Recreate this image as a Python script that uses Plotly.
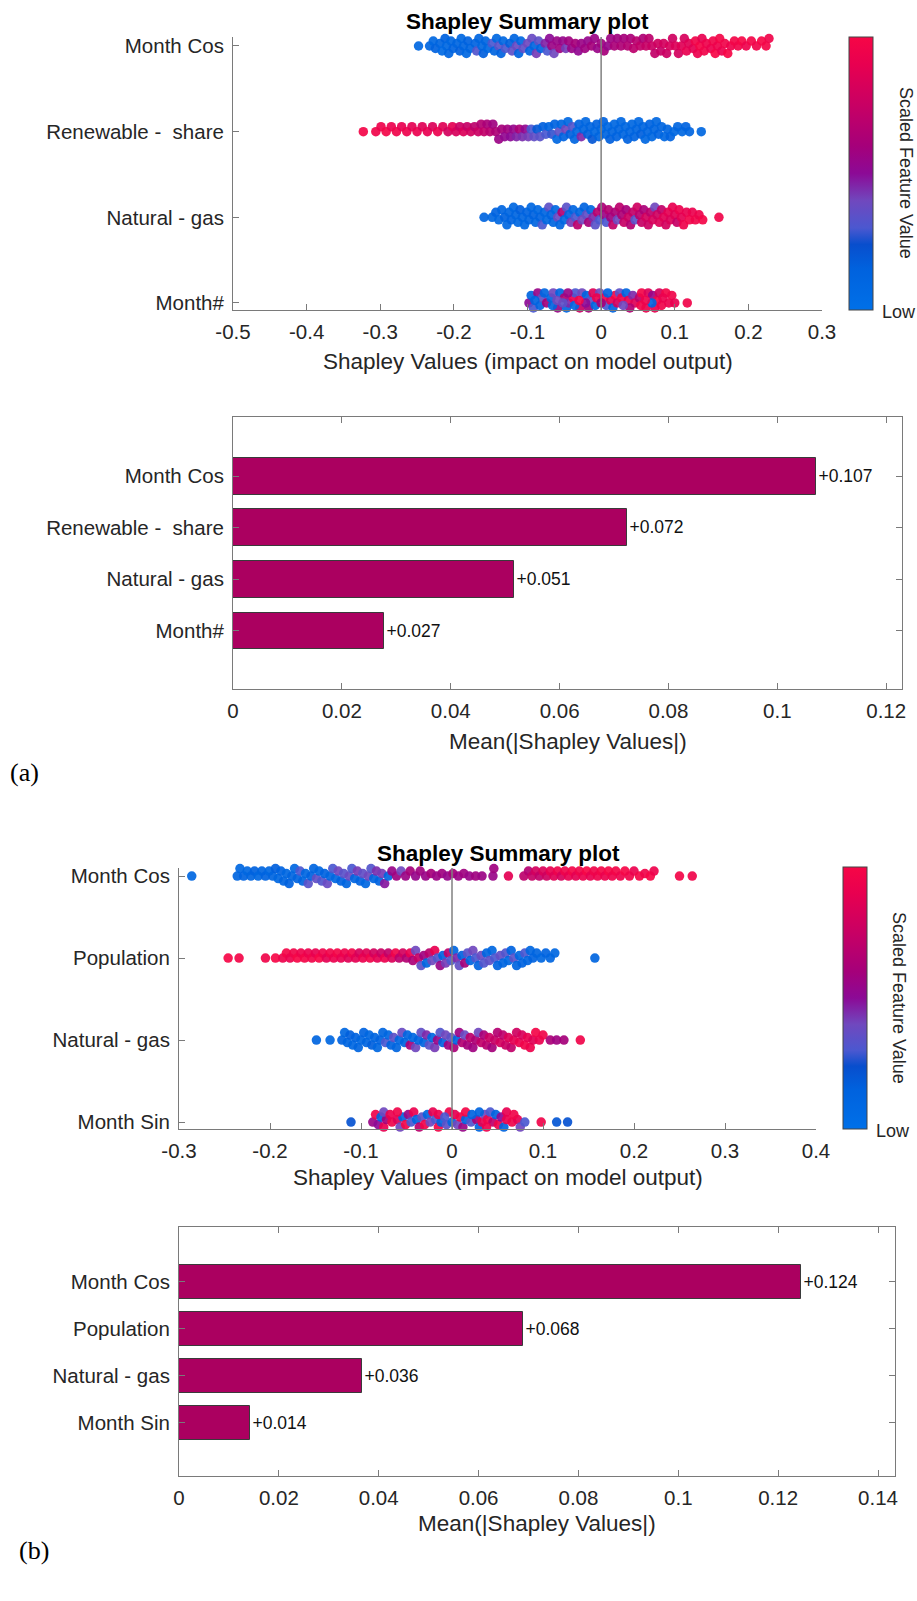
import math
import plotly.graph_objects as go

W, H = 917, 1601

# ---------------- data ----------------
a_features = ["Month Cos", "Renewable - \u00a0share", "Natural - gas", "Month#"]
b_features = ["Month Cos", "Population", "Natural - gas", "Month Sin"]
a_mean_abs = [0.1071, 0.0724, 0.0517, 0.0277]
b_mean_abs = [0.1246, 0.0688, 0.0366, 0.0142]

a_xticks = [-0.5, -0.4, -0.3, -0.2, -0.1, 0, 0.1, 0.2, 0.3]
a_xtick_text = ["-0.5", "-0.4", "-0.3", "-0.2", "-0.1", "0", "0.1", "0.2", "0.3"]
b_xticks = [-0.3, -0.2, -0.1, 0, 0.1, 0.2, 0.3, 0.4]
b_xtick_text = ["-0.3", "-0.2", "-0.1", "0", "0.1", "0.2", "0.3", "0.4"]
a_bar_ticks = [0, 0.02, 0.04, 0.06, 0.08, 0.1, 0.12]
a_bar_tick_text = ["0", "0.02", "0.04", "0.06", "0.08", "0.1", "0.12"]
b_bar_ticks = [0, 0.02, 0.04, 0.06, 0.08, 0.1, 0.12, 0.14]
b_bar_tick_text = ["0", "0.02", "0.04", "0.06", "0.08", "0.1", "0.12", "0.14"]

# (a) Month Cos
a_cos_x = [-0.248, -0.233, -0.228, -0.225, -0.221, -0.219, -0.216, -0.212, -0.210, -0.207,
           -0.204, -0.201, -0.199, -0.196, -0.192, -0.190, -0.187, -0.183, -0.181, -0.178,
           -0.175, -0.171, -0.169, -0.166, -0.162, -0.160, -0.157, -0.154, -0.150, -0.148,
           -0.145, -0.142, -0.139, -0.136, -0.133, -0.130, -0.127, -0.124, -0.121, -0.118,
           -0.115, -0.112, -0.109, -0.106, -0.103, -0.100, -0.097, -0.094, -0.091, -0.088,
           -0.085, -0.082, -0.079, -0.076, -0.073, -0.070, -0.067, -0.064, -0.060, -0.056,
           -0.052, -0.048, -0.044, -0.040, -0.035, -0.031, -0.027, -0.022, -0.018, -0.013,
           -0.009, -0.005, 0.000, 0.004, 0.009, 0.013, 0.018, 0.022, 0.027, 0.031,
           0.036, 0.040, 0.044, 0.048, 0.053, 0.057, 0.061, 0.065, 0.069, 0.073,
           0.077, 0.081, 0.085, 0.089, 0.093, 0.097, 0.101, 0.105, 0.109, 0.113,
           0.116, 0.119, 0.122, 0.125, 0.128, 0.131, 0.134, 0.137, 0.140, 0.143,
           0.146, 0.149, 0.152, 0.155, 0.158, 0.161, 0.164, 0.168, 0.172, 0.176,
           0.181, 0.186, 0.191, 0.197, 0.204, 0.211, 0.218, 0.224, 0.228]
a_cos_c = [0.10, 0.12, 0.10, 0.15, 0.10, 0.12, 0.08, 0.15, 0.10, 0.12,
           0.10, 0.14, 0.10, 0.12, 0.16, 0.10, 0.12, 0.10, 0.15, 0.12,
           0.10, 0.14, 0.32, 0.12, 0.10, 0.16, 0.12, 0.10, 0.14, 0.30,
           0.12, 0.10, 0.34, 0.14, 0.10, 0.30, 0.12, 0.16, 0.35, 0.12,
           0.38, 0.14, 0.10, 0.36, 0.12, 0.40, 0.15, 0.38, 0.12, 0.42,
           0.35, 0.14, 0.44, 0.46, 0.30, 0.50, 0.56, 0.40, 0.55, 0.58,
           0.54, 0.42, 0.58, 0.55, 0.60, 0.52, 0.56, 0.58, 0.54, 0.60,
           0.56, 0.55, 0.58, 0.60, 0.54, 0.57, 0.62, 0.58, 0.64, 0.60,
           0.66, 0.62, 0.70, 0.68, 0.72, 0.64, 0.74, 0.70, 0.76, 0.72,
           0.78, 0.74, 0.80, 0.76, 0.82, 0.78, 0.84, 0.80, 0.86, 0.82,
           0.90, 0.86, 0.94, 0.88, 0.96, 0.92, 0.98, 0.90, 0.96, 0.94,
           0.98, 0.92, 0.96, 1.00, 0.94, 0.98, 0.92, 0.96, 1.00, 0.94,
           0.98, 0.96, 1.00, 0.94, 0.98, 0.96, 1.00, 0.98, 0.96]

# (a) Renewable - share
a_ren_x = [-0.323, -0.306, -0.299, -0.292, -0.285, -0.278, -0.271, -0.264, -0.257, -0.250,
           -0.243, -0.236, -0.229, -0.222, -0.215, -0.208, -0.202, -0.197, -0.192, -0.187,
           -0.182, -0.177, -0.172, -0.167, -0.163, -0.159, -0.155, -0.151, -0.147, -0.143,
           -0.139, -0.135, -0.131, -0.127, -0.123, -0.119, -0.115, -0.111, -0.107, -0.103,
           -0.099, -0.095, -0.091, -0.087, -0.083, -0.079, -0.075, -0.071, -0.067, -0.063,
           -0.060, -0.057, -0.054, -0.051, -0.048, -0.045, -0.042, -0.039, -0.036, -0.033,
           -0.030, -0.027, -0.024, -0.021, -0.018, -0.015, -0.012, -0.009, -0.006, -0.003,
           0.000, 0.003, 0.006, 0.009, 0.012, 0.015, 0.018, 0.021, 0.024, 0.027,
           0.030, 0.033, 0.036, 0.039, 0.042, 0.045, 0.048, 0.051, 0.054, 0.057,
           0.060, 0.063, 0.066, 0.069, 0.072, 0.075, 0.078, 0.082, 0.086, 0.090,
           0.094, 0.099, 0.104, 0.110, 0.115, 0.120, 0.136]
a_ren_c = [0.98, 0.96, 0.94, 0.98, 0.92, 0.96, 0.90, 0.94, 0.88, 0.92,
           0.86, 0.90, 0.84, 0.92, 0.86, 0.80, 0.88, 0.82, 0.76, 0.84,
           0.74, 0.80, 0.70, 0.76, 0.66, 0.72, 0.62, 0.68, 0.58, 0.64,
           0.56, 0.60, 0.52, 0.58, 0.50, 0.54, 0.46, 0.62, 0.44, 0.52,
           0.42, 0.30, 0.36, 0.20, 0.34, 0.16, 0.30, 0.12, 0.28, 0.14,
           0.10, 0.35, 0.12, 0.14, 0.40, 0.10, 0.16, 0.32, 0.12, 0.10,
           0.14, 0.45, 0.12, 0.10, 0.16, 0.12, 0.20, 0.10, 0.14, 0.12,
           0.10, 0.14, 0.12, 0.10, 0.16, 0.12, 0.10, 0.14, 0.12, 0.10,
           0.12, 0.10, 0.15, 0.12, 0.10, 0.14, 0.12, 0.10, 0.16, 0.12,
           0.10, 0.12, 0.14, 0.10, 0.12, 0.10, 0.14, 0.12, 0.10, 0.12,
           0.14, 0.10, 0.12, 0.10, 0.14, 0.12, 0.10]

# (a) Natural - gas
a_gas_x = [-0.159, -0.148, -0.143, -0.139, -0.135, -0.131, -0.128, -0.125, -0.122, -0.119,
           -0.116, -0.113, -0.110, -0.107, -0.104, -0.101, -0.098, -0.095, -0.092, -0.089,
           -0.086, -0.083, -0.080, -0.077, -0.074, -0.071, -0.068, -0.065, -0.062, -0.059,
           -0.056, -0.053, -0.050, -0.047, -0.044, -0.041, -0.038, -0.035, -0.032, -0.029,
           -0.026, -0.023, -0.020, -0.017, -0.014, -0.011, -0.008, -0.005, -0.002, 0.001,
           0.004, 0.007, 0.010, 0.013, 0.016, 0.019, 0.022, 0.025, 0.028, 0.031,
           0.034, 0.037, 0.040, 0.043, 0.046, 0.049, 0.052, 0.055, 0.058, 0.061,
           0.064, 0.067, 0.070, 0.073, 0.076, 0.079, 0.082, 0.085, 0.088, 0.091,
           0.094, 0.097, 0.100, 0.103, 0.106, 0.109, 0.112, 0.116, 0.120, 0.124,
           0.128, 0.133, 0.138, 0.160]
a_gas_c = [0.12, 0.10, 0.14, 0.10, 0.12, 0.15, 0.10, 0.12, 0.14, 0.10,
           0.12, 0.10, 0.16, 0.12, 0.10, 0.14, 0.12, 0.10, 0.15, 0.12,
           0.10, 0.14, 0.30, 0.12, 0.10, 0.35, 0.14, 0.12, 0.10, 0.38,
           0.12, 0.66, 0.10, 0.34, 0.14, 0.42, 0.12, 0.30, 0.70, 0.12,
           0.40, 0.14, 0.36, 0.60, 0.12, 0.45, 0.34, 0.68, 0.30, 0.62,
           0.56, 0.30, 0.66, 0.58, 0.72, 0.62, 0.40, 0.70, 0.64, 0.74,
           0.60, 0.76, 0.66, 0.72, 0.34, 0.78, 0.68, 0.74, 0.62, 0.80,
           0.76, 0.70, 0.82, 0.40, 0.78, 0.84, 0.72, 0.86, 0.80, 0.88,
           0.84, 0.90, 0.86, 0.74, 0.92, 0.88, 0.94, 0.90, 0.96, 0.92,
           0.96, 0.94, 0.98, 0.96]

# (a) Month#
a_mon_x = [-0.098, -0.095, -0.092, -0.089, -0.086, -0.083, -0.080, -0.077, -0.074, -0.071,
           -0.068, -0.065, -0.062, -0.059, -0.056, -0.053, -0.050, -0.047, -0.044, -0.041,
           -0.038, -0.035, -0.032, -0.029, -0.026, -0.023, -0.020, -0.017, -0.014, -0.011,
           -0.008, -0.005, -0.002, 0.001, 0.004, 0.007, 0.010, 0.013, 0.016, 0.019,
           0.022, 0.025, 0.028, 0.031, 0.034, 0.037, 0.040, 0.043, 0.046, 0.049,
           0.052, 0.055, 0.058, 0.061, 0.064, 0.067, 0.070, 0.073, 0.076, 0.079,
           0.082, 0.085, 0.088, 0.092, 0.096, 0.100, 0.104, 0.117,
           -0.090, -0.079, -0.066, -0.052, -0.036, -0.021, -0.006, 0.009, 0.024, 0.039,
           0.054, 0.069, 0.084, 0.094, -0.060, -0.030, 0.000, 0.030, 0.060, -0.045]
a_mon_c = [0.50, 0.12, 0.30, 0.10, 0.55, 0.14, 0.35, 0.12, 0.60, 0.30,
           0.12, 0.40, 0.10, 0.55, 0.14, 0.32, 0.65, 0.12, 0.45, 0.10,
           0.90, 0.30, 0.12, 0.75, 0.40, 0.95, 0.14, 0.60, 0.35, 0.85,
           0.12, 0.92, 0.40, 0.70, 0.96, 0.30, 0.55, 0.88, 0.14, 0.98,
           0.80, 0.35, 0.95, 0.60, 0.12, 0.90, 0.98, 0.45, 0.85, 0.95,
           0.70, 0.98, 0.12, 0.92, 0.85, 0.96, 0.55, 0.90, 0.98, 0.80,
           0.95, 0.88, 0.98, 0.92, 0.96, 0.90, 0.98, 0.96,
           0.14, 0.45, 0.12, 0.35, 0.10, 0.50, 0.92, 0.14, 0.90, 0.65,
           0.96, 0.12, 0.92, 0.98, 0.40, 0.96, 0.60, 0.40, 0.94, 0.55]

# (b) Month Cos
b_cos_x = [-0.286, -0.236, -0.233, -0.229, -0.225, -0.221, -0.217, -0.213, -0.209, -0.205,
           -0.201, -0.197, -0.194, -0.191, -0.188, -0.185, -0.182, -0.179, -0.176, -0.173,
           -0.170, -0.167, -0.164, -0.161, -0.158, -0.155, -0.152, -0.149, -0.146, -0.143,
           -0.140, -0.137, -0.134, -0.131, -0.128, -0.125, -0.122, -0.119, -0.116, -0.113,
           -0.110, -0.107, -0.104, -0.101, -0.098, -0.095, -0.092, -0.089, -0.086, -0.083,
           -0.080, -0.077, -0.074, -0.070, -0.066, -0.061, -0.056, -0.051, -0.046, -0.040,
           -0.035, -0.029, -0.023, -0.017, -0.011, -0.005, 0.001, 0.007, 0.013, 0.019,
           0.026, 0.033, 0.045, 0.046, 0.062, 0.079, 0.084, 0.088, 0.092, 0.096,
           0.100, 0.104, 0.108, 0.112, 0.116, 0.120, 0.124, 0.128, 0.132, 0.136,
           0.140, 0.144, 0.148, 0.152, 0.156, 0.160, 0.164, 0.168, 0.172, 0.176,
           0.180, 0.185, 0.190, 0.195, 0.200, 0.206, 0.212, 0.218, 0.222, 0.250, 0.264]
b_cos_c = [0.10, 0.12, 0.10, 0.14, 0.10, 0.12, 0.15, 0.10, 0.12, 0.14,
           0.10, 0.12, 0.16, 0.10, 0.14, 0.12, 0.10, 0.15, 0.12, 0.10,
           0.14, 0.30, 0.12, 0.10, 0.34, 0.14, 0.12, 0.36, 0.10, 0.32,
           0.14, 0.38, 0.12, 0.30, 0.10, 0.40, 0.14, 0.34, 0.12, 0.38,
           0.30, 0.12, 0.42, 0.14, 0.36, 0.10, 0.40, 0.32, 0.12, 0.44,
           0.14, 0.42, 0.48, 0.12, 0.55, 0.58, 0.40, 0.56, 0.60, 0.54,
           0.58, 0.55, 0.60, 0.56, 0.58, 0.54, 0.60, 0.56, 0.58, 0.55,
           0.58, 0.56, 0.55, 0.58, 0.88, 0.70, 0.66, 0.74, 0.80, 0.72,
           0.84, 0.78, 0.90, 0.86, 0.94, 0.82, 0.96, 0.90, 0.98, 0.88,
           0.96, 0.92, 1.00, 0.90, 0.96, 0.94, 0.98, 0.92, 1.00, 0.94,
           0.98, 0.94, 1.00, 0.96, 0.92, 0.98, 0.96, 1.00, 0.94, 0.98, 0.96]

# (b) Population
b_pop_x = [-0.246, -0.234, -0.205, -0.194, -0.186, -0.182, -0.178, -0.174, -0.170, -0.166,
           -0.162, -0.158, -0.154, -0.150, -0.146, -0.142, -0.138, -0.134, -0.130, -0.126,
           -0.122, -0.118, -0.114, -0.110, -0.106, -0.102, -0.098, -0.094, -0.090, -0.086,
           -0.082, -0.078, -0.074, -0.070, -0.066, -0.062, -0.058, -0.054, -0.050, -0.046,
           -0.043, -0.040, -0.037, -0.034, -0.031, -0.028, -0.025, -0.022, -0.019, -0.016,
           -0.013, -0.010, -0.007, -0.004, -0.001, 0.002, 0.005, 0.008, 0.011, 0.014,
           0.017, 0.020, 0.023, 0.026, 0.029, 0.032, 0.035, 0.038, 0.041, 0.044,
           0.047, 0.050, 0.053, 0.056, 0.059, 0.062, 0.065, 0.068, 0.071, 0.074,
           0.077, 0.080, 0.083, 0.086, 0.089, 0.093, 0.098, 0.103, 0.108, 0.113, 0.157]
b_pop_c = [1.00, 0.98, 0.96, 1.00, 0.94, 0.98, 0.92, 0.96, 1.00, 0.94,
           0.98, 0.92, 0.96, 0.90, 1.00, 0.94, 0.88, 0.96, 0.92, 0.98,
           0.90, 0.94, 0.86, 0.96, 0.88, 0.82, 0.92, 0.86, 0.96, 0.80,
           0.88, 0.76, 0.92, 0.72, 0.84, 0.96, 0.70, 0.80, 0.66, 0.90,
           0.62, 0.40, 0.74, 0.35, 0.58, 0.12, 0.68, 0.40, 0.90, 0.32,
           0.55, 0.14, 0.42, 0.70, 0.30, 0.12, 0.45, 0.36, 0.14, 0.60,
           0.34, 0.12, 0.40, 0.30, 0.14, 0.38, 0.32, 0.12, 0.35, 0.10,
           0.30, 0.14, 0.36, 0.12, 0.32, 0.10, 0.14, 0.34, 0.12, 0.10,
           0.14, 0.30, 0.12, 0.10, 0.14, 0.12, 0.10, 0.14, 0.12, 0.10, 0.12]

# (b) Natural - gas
b_gas_x = [-0.149, -0.134, -0.121, -0.118, -0.115, -0.112, -0.109, -0.106, -0.103, -0.100,
           -0.097, -0.094, -0.091, -0.088, -0.085, -0.082, -0.079, -0.076, -0.073, -0.070,
           -0.067, -0.064, -0.061, -0.058, -0.055, -0.052, -0.049, -0.046, -0.043, -0.040,
           -0.037, -0.034, -0.031, -0.028, -0.025, -0.022, -0.019, -0.016, -0.013, -0.010,
           -0.007, -0.004, -0.001, 0.002, 0.005, 0.008, 0.011, 0.014, 0.017, 0.020,
           0.023, 0.026, 0.029, 0.032, 0.035, 0.038, 0.041, 0.044, 0.047, 0.050,
           0.053, 0.056, 0.059, 0.062, 0.065, 0.068, 0.071, 0.074, 0.077, 0.080,
           0.083, 0.086, 0.089, 0.092, 0.096, 0.100, 0.108, 0.115, 0.123, 0.141]
b_gas_c = [0.12, 0.10, 0.14, 0.10, 0.12, 0.16, 0.10, 0.14, 0.12, 0.10,
           0.14, 0.12, 0.10, 0.16, 0.12, 0.10, 0.14, 0.12, 0.30, 0.10,
           0.14, 0.35, 0.12, 0.10, 0.38, 0.14, 0.12, 0.62, 0.10, 0.40,
           0.14, 0.36, 0.12, 0.45, 0.34, 0.10, 0.42, 0.55, 0.32, 0.14,
           0.40, 0.58, 0.35, 0.62, 0.12, 0.56, 0.66, 0.38, 0.60, 0.70,
           0.58, 0.64, 0.40, 0.72, 0.62, 0.68, 0.76, 0.60, 0.74, 0.66,
           0.80, 0.70, 0.76, 0.84, 0.72, 0.88, 0.78, 0.92, 0.82, 0.96,
           0.90, 0.94, 0.86, 0.98, 0.92, 0.96, 0.62, 0.58, 0.60, 0.96]

# (b) Month Sin
b_sin_x = [-0.111, -0.087, -0.084, -0.081, -0.078, -0.075, -0.072, -0.069, -0.066, -0.063,
           -0.060, -0.057, -0.054, -0.051, -0.048, -0.045, -0.042, -0.039, -0.036, -0.033,
           -0.030, -0.027, -0.024, -0.021, -0.018, -0.015, -0.012, -0.009, -0.006, -0.003,
           0.000, 0.003, 0.006, 0.009, 0.012, 0.015, 0.018, 0.021, 0.024, 0.027,
           0.030, 0.033, 0.036, 0.039, 0.042, 0.045, 0.048, 0.051, 0.054, 0.057,
           0.060, 0.063, 0.066, 0.069, 0.072, 0.075, 0.080, 0.098, 0.115, 0.127,
           -0.075, -0.060, -0.045, -0.030, -0.015, 0.000, 0.015, 0.030, 0.045, 0.060,
           -0.080, -0.052, -0.022, 0.008, 0.038, 0.052, -0.068, -0.008, 0.022, 0.068]
b_sin_c = [0.22, 0.55, 0.95, 0.50, 0.14, 0.90, 0.60, 0.30, 0.96, 0.12,
           0.85, 0.40, 0.12, 0.98, 0.55, 0.30, 0.92, 0.14, 0.70, 0.35,
           0.96, 0.12, 0.40, 0.90, 0.30, 0.98, 0.14, 0.60, 0.35, 0.95,
           0.12, 0.88, 0.40, 0.96, 0.55, 0.14, 0.92, 0.32, 0.98, 0.60,
           0.12, 0.90, 0.40, 0.96, 0.30, 0.70, 0.14, 0.94, 0.50, 0.12,
           0.92, 0.35, 0.96, 0.14, 0.90, 0.40, 0.30, 0.96, 0.20, 0.22,
           0.40, 0.96, 0.12, 0.55, 0.92, 0.30, 0.98, 0.12, 0.60, 0.90,
           0.60, 0.14, 0.96, 0.40, 0.94, 0.14, 0.92, 0.30, 0.12, 0.96]

# ---------------- styling / layout ----------------
FONT = "Liberation Sans, Arial, Helvetica, sans-serif"
TICK_COLOR = "#262626"
AX_COLOR = "#7a7a7a"
TICK_SIZE = 20.5
LABEL_SIZE = 22.5
BAR_COLOR = "#ab0060"

shap_scale = [
    [0.00, "rgb(0,112,232)"],
    [0.15, "rgb(0,98,222)"],
    [0.24, "rgb(8,78,205)"],
    [0.30, "rgb(75,88,208)"],
    [0.40, "rgb(112,72,190)"],
    [0.50, "rgb(140,10,150)"],
    [0.60, "rgb(165,0,122)"],
    [0.75, "rgb(200,0,100)"],
    [0.90, "rgb(232,0,80)"],
    [1.00, "rgb(246,6,70)"],
]

# panel boxes in pixels: (left, right, top, bottom)
P_SA = (233, 822, 37, 310)
P_BA = (233, 902, 417, 689)
P_SB = (179, 816, 868, 1129)
P_BB = (179, 895, 1227, 1476)

SA_XR, SA_YR = [-0.5, 0.3], [0.918, 4.105]
SB_XR, SB_YR = [-0.3, 0.4], [0.915, 4.098]
BA_XR, BA_YR = [0, 0.1229], [-0.13, 5.15]
BB_XR, BB_YR = [0, 0.1434], [-0.13, 5.17]


def xdom(p):
    return [p[0] / W, p[1] / W]


def ydom(p):
    return [1 - p[3] / H, 1 - p[2] / H]


def swarm_offsets(xs, px_x, px_y, diam=9.5, step=2.5, max_off=10.0):
    cands = [0.0]
    k = 1
    while k * step <= max_off + 1e-9:
        cands += [k * step, -k * step]
        k += 1
    order = sorted(range(len(xs)), key=lambda i: xs[i])
    placed = []
    offs = [0.0] * len(xs)
    thr = diam * 0.62
    for i in order:
        xp = xs[i] * px_x
        best, best_cost = 0.0, None
        for c in cands:
            cost = 0.0
            for (qx, qy) in placed:
                dx = xp - qx
                if abs(dx) >= thr:
                    continue
                d = math.hypot(dx, c - qy)
                if d < thr:
                    cost += thr - d
            if cost == 0:
                best = c
                break
            if best_cost is None or cost < best_cost:
                best_cost, best = cost, c
        placed.append((xp, best))
        offs[i] = best / px_y
    return offs


fig = go.Figure()


def add_swarm(rows, p, xr, yr, xa, ya, cax):
    px_x = (p[1] - p[0]) / (xr[1] - xr[0])
    px_y = (p[3] - p[2]) / (yr[1] - yr[0])
    for pos, xs, cs in rows:
        n = min(len(xs), len(cs))
        xs, cs = xs[:n], cs[:n]
        offs = swarm_offsets(xs, px_x, px_y)
        fig.add_trace(go.Scatter(
            x=xs, y=[pos + o for o in offs], mode="markers",
            marker=dict(size=9.5, color=cs, coloraxis=cax, opacity=0.92,
                        line=dict(width=0)),
            xaxis=xa, yaxis=ya, cliponaxis=False, showlegend=False,
            hoverinfo="skip"))


add_swarm([(4, a_cos_x, a_cos_c), (3, a_ren_x, a_ren_c),
           (2, a_gas_x, a_gas_c), (1, a_mon_x, a_mon_c)],
          P_SA, SA_XR, SA_YR, "x", "y", "coloraxis")
add_swarm([(4, b_cos_x, b_cos_c), (3, b_pop_x, b_pop_c),
           (2, b_gas_x, b_gas_c), (1, b_sin_x, b_sin_c)],
          P_SB, SB_XR, SB_YR, "x3", "y3", "coloraxis2")


def trunc_label(v):
    return "+%.3f" % (math.floor(v * 1000 + 1e-9) / 1000)


for vals, xa, ya in [(a_mean_abs, "x2", "y2"), (b_mean_abs, "x4", "y4")]:
    fig.add_trace(go.Bar(
        x=vals, y=[4, 3, 2, 1], orientation="h", width=0.71,
        marker=dict(color=BAR_COLOR, line=dict(color="#3a3a3a", width=1)),
        text=[trunc_label(v) for v in vals], textposition="outside",
        constraintext="none", cliponaxis=False,
        textfont=dict(family=FONT, size=17.5, color="#111111"),
        xaxis=xa, yaxis=ya, showlegend=False, hoverinfo="skip"))


def axis_common(**kw):
    d = dict(showgrid=False, zeroline=False, showline=True, linecolor=AX_COLOR,
             linewidth=1, ticks="inside", ticklen=6, tickcolor=AX_COLOR,
             tickwidth=1, automargin=False,
             tickfont=dict(family=FONT, size=TICK_SIZE, color=TICK_COLOR))
    d.update(kw)
    return d


XSO = 3   # x tick label standoff
YSO = 4   # y tick label standoff
layout = dict(
    width=W, height=H, margin=dict(l=0, r=0, t=0, b=0, autoexpand=False),
    paper_bgcolor="white", plot_bgcolor="white",
    font=dict(family=FONT, color=TICK_COLOR),
    bargap=0,
    xaxis=axis_common(domain=xdom(P_SA), range=SA_XR, anchor="y",
                      tickvals=a_xticks, ticktext=a_xtick_text, ticklabelstandoff=XSO),
    yaxis=axis_common(domain=ydom(P_SA), range=SA_YR, anchor="x",
                      tickvals=[4, 3, 2, 1], ticktext=a_features, ticklabelstandoff=YSO),
    xaxis2=axis_common(domain=xdom(P_BA), range=BA_XR, anchor="y2", mirror="ticks",
                       tickvals=a_bar_ticks, ticktext=a_bar_tick_text, ticklabelstandoff=XSO),
    yaxis2=axis_common(domain=ydom(P_BA), range=BA_YR, anchor="x2", mirror="ticks",
                       tickvals=[4, 3, 2, 1], ticktext=a_features, ticklabelstandoff=YSO),
    xaxis3=axis_common(domain=xdom(P_SB), range=SB_XR, anchor="y3",
                       tickvals=b_xticks, ticktext=b_xtick_text, ticklabelstandoff=XSO),
    yaxis3=axis_common(domain=ydom(P_SB), range=SB_YR, anchor="x3",
                       tickvals=[4, 3, 2, 1], ticktext=b_features, ticklabelstandoff=YSO),
    xaxis4=axis_common(domain=xdom(P_BB), range=BB_XR, anchor="y4", mirror="ticks",
                       tickvals=b_bar_ticks, ticktext=b_bar_tick_text, ticklabelstandoff=XSO),
    yaxis4=axis_common(domain=ydom(P_BB), range=BB_YR, anchor="x4", mirror="ticks",
                       tickvals=[4, 3, 2, 1], ticktext=b_features, ticklabelstandoff=YSO),
)


def cbar(left, top, bottom):
    return dict(x=left / W, xanchor="left", y=1 - bottom / H, yanchor="bottom",
                len=(bottom - top) / H, lenmode="fraction", thickness=24,
                thicknessmode="pixels", outlinewidth=1, outlinecolor="#444444",
                showticklabels=False, ticks="", xpad=0, ypad=0)


layout["coloraxis"] = dict(colorscale=shap_scale, cmin=0, cmax=1,
                           colorbar=cbar(849, 37, 310))
layout["coloraxis2"] = dict(colorscale=shap_scale, cmin=0, cmax=1,
                            colorbar=cbar(843, 867, 1129))
fig.update_layout(**layout)

# zero lines
for xa, ya in [("x", "y"), ("x3", "y3")]:
    fig.add_shape(type="line", xref=xa, yref=ya + " domain", x0=0, x1=0, y0=0, y1=1,
                  line=dict(color="#808080", width=1.5), layer="above")


def ann(text, x, y, size, xanchor="center", yanchor="middle", bold=False,
        family=FONT, color=TICK_COLOR, angle=0):
    fig.add_annotation(text=("<b>%s</b>" % text) if bold else text,
                       x=x / W, y=1 - y / H, xref="paper", yref="paper",
                       xanchor=xanchor, yanchor=yanchor, showarrow=False,
                       textangle=angle, font=dict(family=family, size=size, color=color))


# titles
ann("Shapley Summary plot", 527, 22, 22.5, bold=True, color="#000000")
ann("Shapley Summary plot", 498, 853, 22.5, bold=True, color="#000000")
# axis titles
ann("Shapley Values (impact on model output)", 528, 361, LABEL_SIZE)
ann("Mean(|Shapley Values|)", 568, 741, LABEL_SIZE)
ann("Shapley Values (impact on model output)", 498, 1177, LABEL_SIZE)
ann("Mean(|Shapley Values|)", 537, 1523, LABEL_SIZE)
# colorbar labels
ann("Low", 880, 312, 18, xanchor="left")
ann("Low", 874, 1131, 18, xanchor="left")
ann("Scaled Feature Value", 906, 173, 18, angle=90)
ann("Scaled Feature Value", 899, 998, 18, angle=90)
# panel letters
SERIF = "Liberation Serif, Times New Roman, serif"
ann("(a)", 8, 772, 26, xanchor="left", family=SERIF, color="#000000")
ann("(b)", 17, 1550, 26, xanchor="left", family=SERIF, color="#000000")

fig.write_html("out.html", config={"displayModeBar": False},
               post_script="document.body.style.margin='0';document.body.style.padding='0';")
